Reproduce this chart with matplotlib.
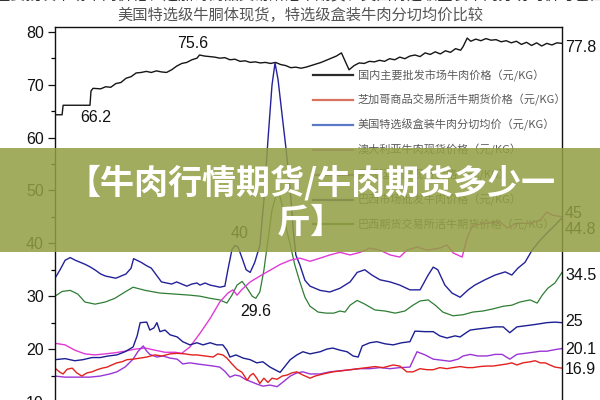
import matplotlib
matplotlib.use("Agg")
import matplotlib.pyplot as plt
from matplotlib.lines import Line2D
from matplotlib.patches import Rectangle

CJK = ["Noto Sans CJK SC", "DejaVu Sans"]
NUM = ["Liberation Sans", "DejaVu Sans"]

# time axis is a 0-100 index (the date axis is cropped off the picture)
black_t = [0, 1.4, 1.6, 6.9, 7.1, 7.5, 9, 10, 11, 12, 13, 14, 15, 16, 17, 18, 19, 20, 21, 22, 23, 24, 25, 26, 27, 28,
           28.5, 29.5, 30.5, 31.5, 32.5, 33.5, 34.5, 35.5, 36.5, 37.5, 38.5, 39.5, 40.5, 41.5, 42.5, 43.5, 44.5, 45.5,
           46.5, 47.5, 48.5, 49.5, 50.5, 51.5, 52.5, 53.5, 54.5, 55.5, 56.5, 57.2, 58, 59, 60, 61, 62, 63, 64, 65, 66,
           67, 68, 69, 70, 71, 72, 73, 74, 75, 76, 77, 78, 79, 80, 80.5, 81.3, 82, 83, 84, 85, 86, 87, 88, 89, 90, 91,
           92, 93, 94, 95, 96, 97, 98, 99, 100]
black_v = [64.3, 64.3, 66.1, 66.1, 68.8, 69.3, 69.2, 69.6, 69.5, 70.2, 70.4, 71.2, 71.5, 72.2, 72.3, 72.5, 72.3, 72.6,
           72.4, 72.3, 72.8, 73.5, 74.0, 74.2, 74.7, 75.0, 75.6, 75.4, 75.3, 75.2, 75.0, 75.1, 74.7, 74.8, 74.4, 74.5,
           74.2, 74.3, 74.1, 74.2, 74.0, 74.2, 73.8, 73.6, 73.2, 73.3, 73.1, 73.3, 73.6, 73.9, 74.2, 74.6, 75.0, 75.4,
           76.0, 74.5, 72.8, 73.6, 74.1, 74.0, 74.4, 74.3, 74.6, 74.4, 74.9, 74.7, 75.2, 74.9, 75.4, 75.6, 75.3, 76.0,
           75.7, 76.2, 75.8, 76.4, 76.1, 76.8, 76.5, 77.2, 78.8, 78.2, 78.6, 78.3, 78.7, 78.4, 78.5, 78.1, 78.3, 77.9,
           78.2, 77.6, 78.0, 77.4, 77.9, 77.3, 77.8, 77.5, 77.9, 77.8]

boxed_t = [0, 1, 2, 3, 4, 5, 6, 7, 8, 9, 10, 11, 12, 13, 14, 15, 15.5, 17, 18, 19, 20, 21, 22, 23, 24, 25, 26, 27, 28,
           28.6, 29.6, 30.6, 31.6, 32.5, 33.5, 34.1, 34.9, 35.5, 36.1, 36.9, 37.7, 38.5, 39.4, 40.4, 41.2, 42, 42.8,
           43.4, 44, 44.8, 45.6, 46.4, 47, 47.5, 48.3, 49.3, 50.3, 52.3, 54.2, 56.2, 58.2, 59.6, 61.1, 62.5, 64.1,
           66.1, 68, 70, 72, 73.6, 74.6, 75.5, 76.9, 78.3, 79.9, 81.5, 82.8, 84.8, 86.8, 88.8, 90.1, 91.3, 92.7, 94.1,
           95.7, 97.2, 98.6, 100]
boxed_v = [33.4, 35.0, 36.8, 37.3, 36.8, 36.4, 36.0, 35.5, 34.9, 34.2, 33.8, 33.6, 33.4, 33.8, 34.2, 35.3, 37.1, 36.4,
           35.8, 35.3, 34.0, 32.7, 32.5, 32.3, 32.7, 32.3, 31.9, 32.3, 32.5, 32.1, 32.5, 32.1, 31.9, 31.7, 31.9, 35.0,
           38.8, 39.6, 39.3, 37.2, 35.0, 34.5, 36.4, 39.6, 48.1, 59.5, 69.9, 74.1, 70.9, 64.2, 57.6, 50.0, 42.5, 37.8,
           35.9, 33.0, 31.9, 31.1, 30.8, 31.5, 32.7, 34.5, 35.0, 34.0, 33.1, 32.7, 32.1, 31.2, 31.2, 34.0, 35.5, 35.0,
           32.1, 30.6, 29.8, 31.2, 32.1, 33.1, 34.0, 34.6, 34.0, 35.3, 36.4, 38.7, 40.6, 42.1, 43.4, 44.8]

carcass_t = [0, 1.4, 3, 4.5, 5.9, 7.9, 9.9, 11.8, 13.8, 15.4, 17.8, 20.7, 23.7, 26.6, 28.6, 30.6, 32.5, 33.9, 34.9,
             35.9, 36.9, 37.9, 38.9, 39.6, 40.4, 41.2, 42, 42.8, 43.6, 44.2, 44.8, 45.6, 46.4, 47.3, 48.3, 49.3, 50.3,
             51.9, 53.5, 55, 56.2, 57.2, 58.2, 59.6, 61.1, 63.1, 65.1, 67.1, 69, 70.6, 72, 73.6, 75, 76.5, 78.5, 80.5,
             82.4, 84.4, 86.4, 88.4, 90.1, 91.7, 93.7, 95.1, 96.1, 97.2, 98.6, 100]
carcass_v = [30.0, 30.9, 31.1, 30.4, 28.9, 28.5, 28.9, 29.6, 30.8, 31.7, 31.1, 30.6, 30.4, 30.2, 30.0, 29.6, 29.3, 28.7,
             30.2, 32.1, 32.8, 31.5, 30.0, 29.6, 30.8, 34.9, 40.6, 46.3, 49.1, 49.5, 47.2, 42.9, 39.7, 35.9, 32.7, 29.8,
             28.1, 27.0, 26.8, 26.8, 27.2, 27.0, 28.3, 29.2, 28.5, 27.4, 27.2, 26.8, 27.2, 28.3, 29.1, 29.3, 28.3, 27.0,
             26.3, 26.5, 27.0, 27.2, 27.6, 28.1, 28.3, 28.9, 29.3, 28.7, 30.2, 31.5, 32.5, 34.5]

aus_t = [0, 2, 3.9, 5.9, 7.9, 9.9, 11.8, 13.8, 15.8, 17.8, 19.7, 21.7, 23.7, 25, 26.6, 28.6, 30.6, 32.5, 34.1, 35.1,
         35.9, 36.9, 38.5, 40.4, 42.4, 44.4, 46.4, 48.3, 50.3, 52.3, 54.2, 56.2, 58.2, 60.2, 62.1, 64.1, 66.1, 68,
         69.4, 71.4, 73.4, 75.9, 77.3, 78.5, 80.3, 81.3, 82.4, 85.2, 87.8, 89.2, 91.1, 93.7, 95.7, 97, 98.2, 100]
aus_v = [21.1, 20.8, 19.8, 19.1, 18.9, 19.1, 19.3, 19.6, 20.0, 20.2, 19.8, 19.4, 19.4, 19.2, 20.4, 23.0, 25.8, 28.9,
         30.6, 31.2, 30.2, 31.3, 32.7, 33.8, 34.9, 36.0, 36.8, 37.2, 36.6, 37.2, 37.8, 38.3, 37.8, 38.3, 39.1, 38.7,
         37.8, 37.4, 38.7, 39.3, 38.7, 39.1, 39.7, 38.2, 37.4, 41.1, 43.4, 43.8, 44.0, 42.9, 43.8, 43.8, 44.4, 45.9,
         45.3, 45.0]

brazil_t = [0, 2, 3.9, 5.5, 7.3, 8.9, 10.5, 12.2, 13.8, 15.4, 16.2, 16.8, 18.1, 18.7, 19.5, 20.1, 20.7, 21.7, 22.7,
            24.1, 25.2, 26.6, 28, 29.2, 30.6, 31.9, 33.1, 33.9, 34.5, 35.7, 37.1, 38.5, 39.8, 41, 42.4, 43.6, 44.4,
            45.4, 46.4, 47.7, 48.9, 50.3, 52.3, 53.6, 54.8, 56.2, 57.6, 58.8, 59.8, 60.6, 62.1, 63.5, 65.1, 66.7,
            68.4, 70, 71, 73, 74.6, 75.9, 77.3, 78.9, 79.9, 81.1, 81.9, 83.4, 85.2, 86.8, 88.4, 89.7, 91.1, 92.7,
            94.3, 95.7, 97, 98.6, 100]
brazil_v = [18.0, 18.2, 17.8, 18.0, 18.4, 18.4, 18.7, 18.9, 19.5, 20.4, 22.5, 25.0, 25.1, 23.6, 24.0, 25.0, 23.3, 23.6,
            22.7, 22.3, 21.4, 20.8, 21.2, 20.8, 21.2, 20.8, 20.8, 19.8, 18.5, 18.9, 18.3, 18.0, 17.4, 17.6, 16.6, 16.0,
            15.6, 16.8, 18.0, 18.9, 19.5, 19.1, 19.5, 20.0, 20.2, 19.8, 19.5, 18.7, 18.5, 20.6, 21.2, 21.4, 21.0, 20.8,
            21.2, 21.4, 23.4, 23.3, 23.3, 22.5, 22.1, 22.5, 22.3, 23.1, 23.6, 23.8, 24.0, 24.2, 24.2, 23.1, 24.2, 24.4,
            24.6, 24.8, 25.0, 25.1, 25.0]

arg_t = [0, 2, 4.3, 6.9, 8.9, 10.8, 12.2, 13.8, 15.4, 16.4, 17.4, 18.1, 18.7, 20.1, 21.3, 22.7, 24.1, 25.2, 26.6, 28,
         29.6, 31.2, 32.5, 33.5, 34.5, 35.5, 36.5, 37.5, 38.5, 39.8, 41, 42.4, 43.8, 45, 46.4, 47.7, 48.9, 50.3, 52.3,
         54.2, 56.2, 58.2, 60.2, 62.1, 64.1, 66.1, 68, 70, 71.4, 73, 74.6, 76.3, 77.9, 79.5, 80.5, 81.9, 83.4, 85.2,
         86.8, 88.2, 89.7, 91.1, 92.7, 94.3, 95.7, 97, 98.6, 100]
arg_v = [14.9, 14.7, 14.7, 14.7, 14.9, 15.3, 15.7, 16.6, 18.1, 19.6, 20.6, 19.6, 19.0, 18.5, 18.7, 18.3, 18.1, 17.2,
         17.4, 17.2, 17.0, 16.8, 16.6, 15.8, 14.7, 15.1, 14.9, 14.3, 13.9, 13.4, 13.0, 13.2, 12.9, 13.8, 14.9, 15.5,
         15.7, 15.3, 15.3, 15.7, 15.9, 16.1, 16.3, 16.3, 16.5, 16.3, 16.5, 16.6, 19.5, 18.9, 18.1, 17.9, 17.7, 18.1,
         18.7, 19.0, 18.7, 18.7, 19.0, 19.0, 18.1, 19.0, 19.2, 19.4, 19.6, 19.6, 19.9, 20.1]

cme_t = [0, 1, 1.6, 2.4, 3.4, 4.3, 5.3, 6.3, 7.3, 8.3, 9.3, 10.3, 11.2, 12.2, 13.2, 14.2, 15.4, 16.8, 18.1, 19.7, 21.1,
         22.7, 24.1, 25.6, 27, 28, 29.6, 31.2, 32.1, 33.1, 33.9, 34.9, 35.9, 36.9, 37.9, 38.5, 39.1, 39.8, 40.4, 41.2,
         42, 42.8, 43.8, 44.8, 45.8, 46.7, 47.7, 48.9, 50.3, 51.3, 52.9, 54.8, 56.6, 58.2, 59.8, 61.5, 63.1, 64.7,
         66.7, 68, 69.4, 70.6, 72, 73.4, 74.6, 75.9, 77.3, 78.5, 79.9, 81.3, 82.4, 83.8, 85.2, 86.4, 87.8, 89.2, 90.1,
         91.1, 92.3, 93.7, 94.7, 95.7, 96.7, 97.6, 98.6, 100]
cme_v = [16.4, 15.6, 15.3, 16.2, 16.4, 15.5, 14.9, 15.5, 15.7, 16.1, 16.4, 16.6, 17.0, 17.4, 17.6, 18.0, 18.1, 18.3,
         18.5, 18.9, 18.7, 19.1, 19.2, 19.1, 18.9, 18.9, 18.7, 18.5, 19.1, 18.9, 18.3, 17.2, 16.2, 15.6, 14.1, 15.0,
         15.4, 14.5, 13.5, 14.5, 13.7, 14.5, 14.3, 14.9, 15.1, 15.5, 15.7, 15.1, 14.5, 14.9, 15.3, 15.7, 15.9, 16.1,
         16.3, 16.5, 16.7, 16.5, 17.0, 16.8, 15.7, 15.7, 16.3, 16.1, 16.1, 16.5, 16.3, 16.5, 16.7, 16.5, 16.5, 16.7,
         16.8, 16.8, 17.0, 17.2, 17.4, 17.0, 17.4, 17.6, 17.8, 17.4, 17.4, 17.0, 16.6, 16.4]

legend_labels = [
    "国内主要批发市场牛肉价格（元/KG）",
    "芝加哥商品交易所活牛期货价格（元/KG）",
    "美国特选级盒装牛肉分切均价（元/KG）",
    "澳大利亚牛肉现货价格（元/KG）",
    "阿根廷牛肉现货价格（元/KG）",
    "巴西市场批发牛肉价格（元/KG）",
    "巴西期货交易所活牛期货价格（元/KG）",
]
legend_colors = ["#2b2b2b", "#d8735f", "#5b79c6", "#d46ccb", "#a060d0", "#3a3a9a", "#4a8a4a"]

end_labels = ["77.8", "45", "44.8", "34.5", "25", "20.1", "16.9"]
peak_labels = ["75.6", "66.2", "40", "29.6"]

title = "美国特选级牛胴体现货，特选级盒装牛肉分切均价比较"
top_line = "注：国内主要批发市场牛肉价格、芝加哥商品交易所活牛期货、美国特选级盒装牛肉分切均价与巴西期货对比"
banner = "【牛肉行情期货/牛肉期货多少一\n斤】"

W, H = 600, 400
fig = plt.figure(figsize=(6, 4), dpi=100)
fig.patch.set_facecolor("white")


def fx(px):
    return px / W


def fy(py):
    return 1 - py / H


ax = fig.add_axes([fx(55), fy(402), fx(562) - fx(55), (402 - 26.7) / H])
ax.plot(black_t, black_v, color="#151515", lw=1.0)
ax.plot(carcass_t, carcass_v, color="#2f7d35", lw=0.9)
ax.plot(boxed_t, boxed_v, color="#23229a", lw=1.0)
ax.plot(aus_t, aus_v, color="#e03ad6", lw=1.0)
ax.plot(brazil_t, brazil_v, color="#1c1f92", lw=1.0)
ax.plot(arg_t, arg_v, color="#9a35d6", lw=1.0)
ax.plot(cme_t, cme_v, color="#e2221f", lw=1.0)

ax.set_xlim(0, 100)
ax.set_ylim(10, 80.95)
ax.set_xticks([])
ax.set_yticks([10, 20, 30, 40, 50, 60, 70, 80])
ax.set_yticks(range(15, 80, 10), minor=True)
ax.tick_params(axis="y", which="major", length=5, width=0.9, pad=3, labelsize=11.5, colors="#111")
ax.tick_params(axis="y", which="minor", length=3, width=0.9)
for lab in ax.get_yticklabels():
    lab.set_family(NUM)
for s in ax.spines.values():
    s.set_linewidth(1.0)
    s.set_color("#111")

handles = [Line2D([], [], color=c, lw=1.6) for c in legend_colors]
leg = ax.legend(handles, legend_labels, loc="upper left", bbox_to_anchor=((307 - 55) / 507, (402 - 64) / 375.3),
                frameon=False, borderpad=0, handlelength=3.6, handletextpad=0.45, labelspacing=1.15,
                prop={"family": CJK, "size": 8})
for t in leg.get_texts():
    t.set_color("#5a5a5a")

# value labels
for txt, (px, py) in zip(peak_labels, [(193, 44), (96, 117), (240, 234), (256, 311)]):
    fig.text(fx(px), fy(py), txt, ha="center", va="center", fontsize=11.5, family=NUM, color="#111")
for txt, py in zip(end_labels, [47, 213, 229, 276, 321, 349, 369]):
    fig.text(fx(565), fy(py), txt, ha="left", va="center", fontsize=11.5, family=NUM, color="#111")

fig.text(0.5, fy(15), title, ha="center", va="center", fontsize=11, family=CJK, color="#555")
fig.text(0.5, fy(-5), top_line, ha="center", va="center", fontsize=11, family=CJK, color="#333")

fig.patches.append(Rectangle((0, fy(252)), 1, 104 / H, transform=fig.transFigure,
                             facecolor="#939f43", alpha=0.86, edgecolor="none", zorder=5))
fig.text(fx(311), fy(202), banner, ha="center", va="center", fontsize=24.5, family=CJK,
         fontweight="bold", color="white", linespacing=1.15, zorder=6)

fig.savefig("out.png", dpi=100)
